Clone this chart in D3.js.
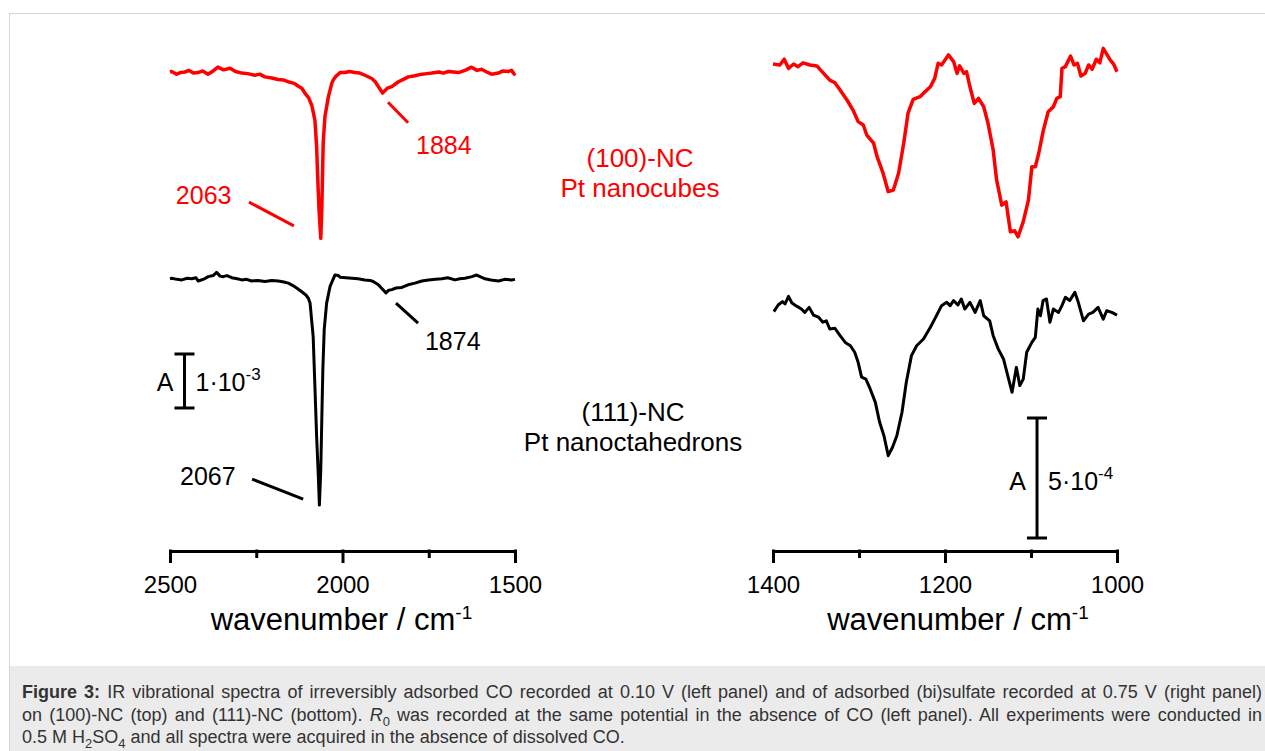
<!DOCTYPE html>
<html>
<head>
<meta charset="utf-8">
<script src="https://cdn.jsdelivr.net/npm/d3@7"></script>
<style>
  body { margin: 0; background: #fff; }
  svg text { font-family: "Liberation Sans", Arial, sans-serif; }
</style>
</head>
<body>
<div id="wrapper"></div>
<script>
// tick values of the two wavenumber axes
const ticksCO = [2500, 2000, 1500];
const minorTicksCO = [2250, 1750];
const ticksSO4 = [1400, 1200, 1000];
const minorTicksSO4 = [1300, 1100];

// spectra: [wavenumber / cm-1, absorbance / 10^-3], relative to each baseline
const nc100CO = [[2500,0.00],[2495,0.01],[2481,-0.04],[2470,-0.01],[2457,0.00],[2445,0.03],[2432,-0.02],[2419,-0.01],[2405,0.02],[2390,-0.04],[2375,0.02],[2361,0.09],[2345,0.04],[2326,0.07],[2310,0.01],[2292,-0.02],[2275,-0.03],[2254,-0.06],[2240,-0.04],[2225,-0.09],[2205,-0.11],[2187,-0.14],[2170,-0.15],[2158,-0.18],[2140,-0.21],[2129,-0.26],[2118,-0.30],[2109,-0.39],[2098,-0.48],[2089,-0.62],[2080,-0.89],[2075,-1.38],[2072,-1.94],[2068,-2.56],[2063,-3.08],[2060,-2.56],[2058,-1.94],[2056,-1.32],[2051,-0.83],[2041,-0.46],[2031,-0.21],[2027,-0.15],[2018,-0.07],[2012,-0.04],[2007,-0.01],[1993,-0.01],[1980,0.01],[1964,-0.01],[1950,-0.02],[1935,-0.06],[1915,-0.12],[1905,-0.18],[1896,-0.27],[1884,-0.39],[1870,-0.30],[1857,-0.27],[1838,-0.18],[1825,-0.14],[1809,-0.09],[1790,-0.07],[1770,-0.04],[1755,-0.03],[1741,-0.02],[1720,0.00],[1708,-0.02],[1693,0.01],[1678,0.00],[1664,-0.01],[1645,0.03],[1626,0.09],[1610,0.03],[1597,0.05],[1582,0.00],[1568,-0.04],[1548,-0.02],[1535,0.02],[1519,0.01],[1510,0.03],[1502,-0.04],[1500,-0.02]];

const nc111CO = [[2500,0.00],[2495,0.01],[2480,-0.01],[2466,-0.02],[2450,0.01],[2437,0.00],[2425,0.02],[2418,-0.04],[2400,0.00],[2389,0.04],[2375,0.06],[2365,0.12],[2355,0.05],[2346,0.04],[2335,0.06],[2321,0.02],[2305,0.00],[2292,-0.02],[2278,-0.01],[2263,-0.04],[2245,-0.03],[2225,-0.05],[2205,-0.03],[2186,-0.04],[2170,-0.06],[2157,-0.08],[2145,-0.12],[2133,-0.17],[2118,-0.24],[2106,-0.30],[2099,-0.36],[2094,-0.45],[2085,-1.07],[2080,-1.99],[2075,-2.92],[2070,-3.66],[2067,-4.19],[2063,-3.54],[2060,-2.61],[2057,-1.69],[2053,-0.94],[2046,-0.45],[2036,-0.14],[2022,0.07],[2012,0.06],[2007,0.03],[1990,0.02],[1973,0.01],[1955,0.00],[1935,-0.02],[1920,-0.03],[1911,-0.05],[1896,-0.11],[1886,-0.18],[1874,-0.26],[1866,-0.21],[1857,-0.20],[1845,-0.17],[1828,-0.16],[1810,-0.11],[1790,-0.08],[1770,-0.04],[1751,-0.02],[1730,-0.01],[1712,0.00],[1695,0.02],[1674,-0.02],[1660,0.00],[1645,0.01],[1625,0.04],[1611,0.07],[1598,0.03],[1587,0.00],[1570,-0.02],[1548,-0.04],[1530,-0.01],[1510,-0.02],[1500,-0.01]];

const nc100SO4 = [[1400,0.000],[1392,-0.004],[1387,0.020],[1382,-0.018],[1376,0.000],[1371,-0.011],[1365,0.005],[1357,-0.004],[1349,-0.008],[1343,-0.032],[1334,-0.067],[1328,-0.078],[1322,-0.108],[1314,-0.150],[1307,-0.192],[1301,-0.240],[1295,-0.254],[1291,-0.296],[1283,-0.330],[1279,-0.386],[1272,-0.455],[1266,-0.532],[1260,-0.525],[1254,-0.455],[1248,-0.330],[1243,-0.205],[1237,-0.147],[1229,-0.136],[1223,-0.115],[1217,-0.095],[1212,-0.060],[1208,0.003],[1204,-0.004],[1196,0.038],[1190,0.010],[1186,-0.039],[1183,-0.008],[1178,-0.039],[1175,-0.032],[1171,-0.095],[1166,-0.164],[1161,-0.143],[1155,-0.178],[1150,-0.247],[1144,-0.358],[1140,-0.483],[1134,-0.588],[1129,-0.574],[1124,-0.699],[1119,-0.695],[1115,-0.720],[1109,-0.657],[1103,-0.567],[1099,-0.428],[1095,-0.428],[1091,-0.372],[1086,-0.282],[1080,-0.199],[1074,-0.178],[1070,-0.143],[1066,-0.136],[1064,-0.018],[1060,-0.011],[1054,0.033],[1050,-0.004],[1046,0.003],[1042,-0.050],[1037,-0.039],[1033,-0.004],[1029,-0.022],[1024,0.020],[1020,0.005],[1016,0.065],[1008,0.017],[1004,0.000],[1000,-0.032]];

const nc111SO4 = [[1399,-0.032],[1394,-0.004],[1389,0.010],[1386,0.000],[1382,0.032],[1378,0.004],[1372,-0.010],[1367,-0.021],[1363,-0.035],[1358,-0.014],[1353,-0.046],[1347,-0.055],[1342,-0.076],[1338,-0.070],[1334,-0.104],[1328,-0.101],[1322,-0.132],[1316,-0.160],[1310,-0.174],[1305,-0.201],[1301,-0.243],[1297,-0.305],[1292,-0.313],[1287,-0.354],[1281,-0.410],[1276,-0.493],[1271,-0.549],[1266,-0.632],[1261,-0.597],[1256,-0.549],[1250,-0.451],[1245,-0.326],[1239,-0.215],[1233,-0.174],[1225,-0.146],[1217,-0.097],[1212,-0.063],[1204,-0.007],[1198,0.007],[1194,-0.007],[1190,0.014],[1185,-0.004],[1181,0.021],[1177,-0.021],[1171,0.007],[1165,-0.035],[1159,0.014],[1155,-0.049],[1148,-0.070],[1144,-0.132],[1138,-0.188],[1132,-0.229],[1126,-0.313],[1122,-0.368],[1117,-0.264],[1113,-0.340],[1109,-0.313],[1105,-0.201],[1099,-0.160],[1095,-0.139],[1092,-0.021],[1089,-0.049],[1086,0.014],[1082,0.021],[1078,-0.076],[1074,-0.021],[1068,-0.035],[1064,-0.007],[1060,0.028],[1055,0.014],[1049,0.049],[1045,0.007],[1039,-0.070],[1033,-0.042],[1028,-0.035],[1022,-0.014],[1016,-0.063],[1012,-0.028],[1006,-0.035],[1000,-0.046]];

// peak labels: text, leader line [wn, A] -> [wn, A], text anchor point
const peakLabelsCO = [
  { text: "2063", color: "#ff0000", line: [[2271, -2.41], [2141, -2.85]], at: [2483, -2.44] },
  { text: "1884", color: "#ff0000", line: [[1868, -0.56], [1810, -0.94]], at: [1787, -1.52] },
  { text: "1874", color: "#000", line: [[1845, -4.28], [1781, -4.65]], at: [1761, -5.15] },
  { text: "2067", color: "#000", line: [[2262, -7.54], [2114, -7.91]], at: [2471, -7.65] }
];

const sampleNames = [
  { lines: ["(100)-NC", "Pt nanocubes"], color: "#ff0000" },
  { lines: ["(111)-NC", "Pt nanoctahedrons"], color: "#000" }
];

const captionLines = [
  [["Figure 3:", "b"], [" IR vibrational spectra of irreversibly adsorbed CO recorded at 0.10 V (left panel) and of adsorbed (bi)sulfate recorded at 0.75 V (right panel)"]],
  [["on (100)-NC (top) and (111)-NC (bottom). "], ["R", "i"], ["0", "sub"], [" was recorded at the same potential in the absence of CO (left panel). All experiments were conducted in"]],
  [["0.5 M H"], ["2", "sub"], ["SO"], ["4", "sub"], [" and all spectra were acquired in the absence of dissolved CO."]]
];

function buildPlot() {
  const dimension = { width: 1265, height: 751, axisY: 551 };

  const svg = d3.select("#wrapper").append("svg")
    .attr("width", dimension.width)
    .attr("height", dimension.height);

  // frame + caption band
  svg.append("rect").attr("x", 9.5).attr("y", 13.5)
    .attr("width", dimension.width).attr("height", dimension.height)
    .attr("fill", "none").attr("stroke", "#d6d6d6");
  svg.append("rect").attr("x", 10).attr("y", 666)
    .attr("width", dimension.width - 10).attr("height", 85)
    .attr("fill", "#ebebeb");

  // scales
  const xCO = d3.scaleLinear().domain([2500, 1500]).range([170, 515]);
  const yCO = d3.scaleLinear().domain([-9, 0]).range([72 + 9 * 54, 72]);
  const xSO4 = d3.scaleLinear().domain([1400, 1000]).range([773, 1117]);
  const ySO4 = d3.scaleLinear().domain([-2, 0]).range([64 + 2 * 240, 64]);

  const offsetCO = { top: 0, bottom: -3.83 };
  const offsetSO4 = { top: 0, bottom: -1.0 };

  function drawSpectrum(data, x, y, offset, color, width) {
    const line = d3.line()
      .x(d => x(d[0]))
      .y(d => y(d[1] + offset));
    svg.append("path")
      .attr("d", line(data))
      .attr("fill", "none")
      .attr("stroke", color)
      .attr("stroke-width", width)
      .attr("stroke-linejoin", "round");
  }

  drawSpectrum(nc100CO, xCO, yCO, offsetCO.top, "#ff0000", 3.5);
  drawSpectrum(nc111CO, xCO, yCO, offsetCO.bottom, "#000", 3);
  drawSpectrum(nc100SO4, xSO4, ySO4, offsetSO4.top, "#ff0000", 3.5);
  drawSpectrum(nc111SO4, xSO4, ySO4, offsetSO4.bottom, "#000", 3);

  // axes
  function drawAxis(x, major, minor) {
    const g = svg.append("g").attr("transform", `translate(0,${dimension.axisY})`);
    g.call(d3.axisBottom(x).tickValues(major).tickSize(12).tickSizeOuter(0).tickPadding(13).tickFormat(d3.format("d")));
    const gm = svg.append("g").attr("transform", `translate(0,${dimension.axisY})`);
    gm.call(d3.axisBottom(x).tickValues(minor).tickSize(7).tickSizeOuter(0).tickFormat(""));
    gm.select(".domain").remove();
    [g, gm].forEach(a => {
      a.selectAll("path, line").attr("stroke", "#000").attr("stroke-width", 3);
      a.selectAll(".tick line").attr("y1", -1.5);
    });
    g.select(".domain").attr("stroke-linecap", "square");
    g.selectAll(".tick text")
      .attr("font-size", 24)
      .attr("fill", "#000")
      .attr("font-family", "Liberation Sans, Arial, sans-serif");
  }
  drawAxis(xCO, ticksCO, minorTicksCO);
  drawAxis(xSO4, ticksSO4, minorTicksSO4);

  function axisTitle(cx) {
    const t = svg.append("text")
      .attr("x", cx).attr("y", 630)
      .attr("text-anchor", "middle")
      .attr("font-size", 31);
    t.append("tspan").text("wavenumber / cm");
    t.append("tspan").attr("dy", -11).attr("font-size", 19).text("-1");
  }
  axisTitle(xCO(2000) - 1);
  axisTitle(xSO4(1200) + 13);

  // peak labels and leader lines
  peakLabelsCO.forEach(p => {
    svg.append("line")
      .attr("x1", xCO(p.line[0][0])).attr("y1", yCO(p.line[0][1]))
      .attr("x2", xCO(p.line[1][0])).attr("y2", yCO(p.line[1][1]))
      .attr("stroke", p.color).attr("stroke-width", 3);
    svg.append("text")
      .attr("x", xCO(p.at[0])).attr("y", yCO(p.at[1]))
      .attr("font-size", 25).attr("fill", p.color)
      .text(p.text);
  });

  // scale bars
  function scaleBar(x, y, wn, from, to, exp, labelAt) {
    const bx = x(wn);
    const g = svg.append("g").attr("stroke", "#000").attr("stroke-width", 3);
    g.append("line").attr("x1", bx).attr("x2", bx).attr("y1", y(from)).attr("y2", y(to));
    [from, to].forEach(v => g.append("line")
      .attr("x1", bx - 10).attr("x2", bx + 10).attr("y1", y(v)).attr("y2", y(v)));
    const ty = y(labelAt);
    svg.append("text").attr("x", bx - 11).attr("y", ty)
      .attr("text-anchor", "end").attr("font-size", 25).text("A");
    const t = svg.append("text").attr("x", bx + 11).attr("y", ty).attr("font-size", 25);
    t.append("tspan").text(exp[0]);
    t.append("tspan").attr("dy", -11).attr("font-size", 17).text(exp[1]);
  }
  scaleBar(xCO, yCO, 2458, -5.222, -6.222, ["1\u00b710", "-3"], -5.91);
  scaleBar(xSO4, ySO4, 1093, -1.475, -1.975, ["5\u00b710", "-4"], -1.775);

  // sample names between the panels
  const namePos = [{ x: 640, y: 167 }, { x: 633, y: 421 }];
  sampleNames.forEach((s, i) => {
    s.lines.forEach((l, j) => {
      svg.append("text")
        .attr("x", namePos[i].x).attr("y", namePos[i].y + j * 30)
        .attr("text-anchor", "middle")
        .attr("font-size", 26).attr("fill", s.color)
        .text(l);
    });
  });

  // caption, first two lines justified to the box width
  const captionWidth = 1240;
  captionLines.forEach((parts, i) => {
    const t = svg.append("text")
      .attr("x", 22).attr("y", 698 + i * 22.5)
      .attr("font-size", 18).attr("fill", "#333");
    let shift = 0;
    parts.forEach(p => {
      const s = t.append("tspan").text(p[0]);
      if (shift) { s.attr("dy", shift); shift = 0; }
      if (p[1] === "b") s.attr("font-weight", "bold");
      if (p[1] === "i") s.attr("font-style", "italic");
      if (p[1] === "sub") {
        s.attr("font-size", 13).attr("dy", 5);
        shift = -5;
      }
    });
    if (i < captionLines.length - 1) {
      const len = t.node().getComputedTextLength();
      const spaces = parts.map(p => p[0]).join("").split(" ").length - 1;
      t.attr("word-spacing", Math.max(0, (captionWidth - len) / spaces));
    }
  });
}
buildPlot();
</script>
</body>
</html>
